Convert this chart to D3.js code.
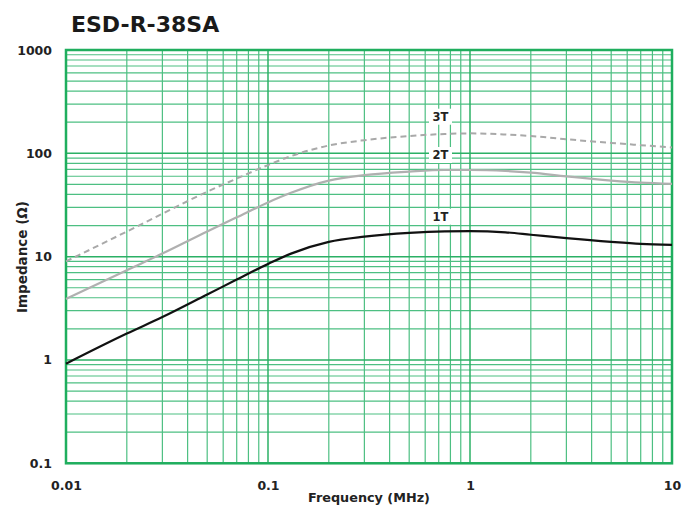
<!DOCTYPE html>
<html><head><meta charset="utf-8">
<script src="https://cdn.jsdelivr.net/npm/d3@7"></script>
<style>body{margin:0;background:#fff}svg{display:block}</style>
</head><body>
<svg id="c" width="697" height="509"></svg>
<script>
const title = "ESD-R-38SA";
const freqs = [0.01, 0.02, 0.03, 0.05, 0.07, 0.1, 0.13, 0.2, 0.3, 0.5, 0.75, 1, 1.5, 2, 3, 5, 7, 10];
const t1 = [0.92, 1.8, 2.6, 4.3, 6.0, 8.5, 10.7, 13.9, 15.6, 17.0, 17.6, 17.7, 17.2, 16.3, 15.1, 13.9, 13.3, 13.0];
const t2 = [3.9, 7.4, 10.7, 17.5, 24, 33.5, 41.5, 54.5, 61.5, 66.5, 69, 69, 67.5, 65, 59.8, 54.5, 52, 50.6];
const t3 = [9.0, 17.5, 26, 42.5, 57, 77, 94, 119, 134, 147, 154, 156, 152, 147, 137, 126, 120, 114];
const seriesNames = ["1T", "2T", "3T"];
const xTicks = [0.01, 0.1, 1, 10];
const xTickLabels = ["0.01", "0.1", "1", "10"];
const yTicks = [0.1, 1, 10, 100, 1000];
const yTickLabels = ["0.1", "1", "10", "100", "1000"];
const xTitle = "Frequency (MHz)";
const yTitle = "Impedance (Ω)";

const svg = d3.select("#c");
const L = 66, R = 672, T = 50, B = 463.3;
const x = d3.scaleLog().domain([0.01, 10]).range([L, R]);
const y = d3.scaleLog().domain([0.1, 1000]).range([B, T]);
const font = "'DejaVu Sans', Verdana, sans-serif";

// minor grid
const minorX = [], minorY = [];
for (let d = 0.01; d < 10; d *= 10) for (let k = 2; k <= 9; k++) minorX.push(d * k);
for (let d = 0.1; d < 1000; d *= 10) for (let k = 2; k <= 9; k++) minorY.push(d * k);
const g = svg.append("g");
g.selectAll(".mx").data(minorX).join("line")
  .attr("x1", d => x(d)).attr("x2", d => x(d)).attr("y1", T).attr("y2", B)
  .attr("stroke", "#4dbf82").attr("stroke-width", 1.2);
g.selectAll(".my").data(minorY).join("line")
  .attr("y1", d => y(d)).attr("y2", d => y(d)).attr("x1", L).attr("x2", R)
  .attr("stroke", "#4dbf82").attr("stroke-width", 1.2);
g.selectAll(".Mx").data(xTicks).join("line")
  .attr("x1", d => x(d)).attr("x2", d => x(d)).attr("y1", T).attr("y2", B)
  .attr("stroke", "#2bb065").attr("stroke-width", 1.5);
g.selectAll(".My").data(yTicks).join("line")
  .attr("y1", d => y(d)).attr("y2", d => y(d)).attr("x1", L).attr("x2", R)
  .attr("stroke", "#2bb065").attr("stroke-width", 1.5);
g.append("rect").attr("x", L).attr("y", T).attr("width", R - L).attr("height", B - T)
  .attr("fill", "none").attr("stroke", "#1fae5e").attr("stroke-width", 2.5);

// axes
const xAxis = svg.append("g").attr("transform", `translate(0,${B})`)
  .call(d3.axisBottom(x).tickValues(xTicks).tickFormat((d, i) => xTickLabels[i]).tickSize(0).tickPadding(18));
xAxis.select(".domain").remove();
xAxis.selectAll("text").attr("font-family", font).attr("font-weight", "bold").attr("font-size", 12.5).attr("fill", "#222");
const yAxis = svg.append("g").attr("transform", `translate(${L},0)`)
  .call(d3.axisLeft(y).tickValues(yTicks).tickFormat((d, i) => yTickLabels[i]).tickSize(0).tickPadding(14));
yAxis.select(".domain").remove();
yAxis.selectAll("text").attr("font-family", font).attr("font-weight", "bold").attr("font-size", 12.5).attr("fill", "#222");

// lines
const line = d3.line().x(d => x(d[0])).y(d => y(d[1])).curve(d3.curveMonotoneX);
const zip = arr => freqs.map((f, i) => [f, arr[i]]);
svg.append("path").datum(zip(t3)).attr("d", line).attr("fill", "none")
  .attr("stroke", "#a9a9a9").attr("stroke-width", 2).attr("stroke-dasharray", "6,4");
svg.append("path").datum(zip(t2)).attr("d", line).attr("fill", "none")
  .attr("stroke", "#b0b0b0").attr("stroke-width", 2.2);
svg.append("path").datum(zip(t1)).attr("d", line).attr("fill", "none")
  .attr("stroke", "#111").attr("stroke-width", 2.2);

// series labels
const labelY = [216.7, 155, 116.7];
seriesNames.forEach((n, i) => {
  svg.append("rect").attr("x", 429).attr("y", labelY[i] - 8).attr("width", 23).attr("height", 16).attr("fill", "#fff");
  svg.append("text").attr("x", 440.5).attr("y", labelY[i]).attr("dy", "0.36em")
    .attr("text-anchor", "middle").attr("font-family", font).attr("font-weight", "bold")
    .attr("font-size", 11.5).attr("fill", "#222").text(n);
});

// titles
svg.append("text").attr("x", 71).attr("y", 32).attr("font-family", font).attr("font-weight", "bold")
  .attr("font-size", 22).attr("fill", "#1a1a1a").text(title);
svg.append("text").attr("x", 369).attr("y", 502).attr("text-anchor", "middle").attr("font-family", font)
  .attr("font-weight", "bold").attr("font-size", 12.8).attr("fill", "#222").text(xTitle);
svg.append("text").attr("transform", "translate(27,257) rotate(-90)").attr("text-anchor", "middle")
  .attr("font-family", font).attr("font-weight", "bold").attr("font-size", 13.5).attr("fill", "#222").text(yTitle);
</script>
</body></html>
